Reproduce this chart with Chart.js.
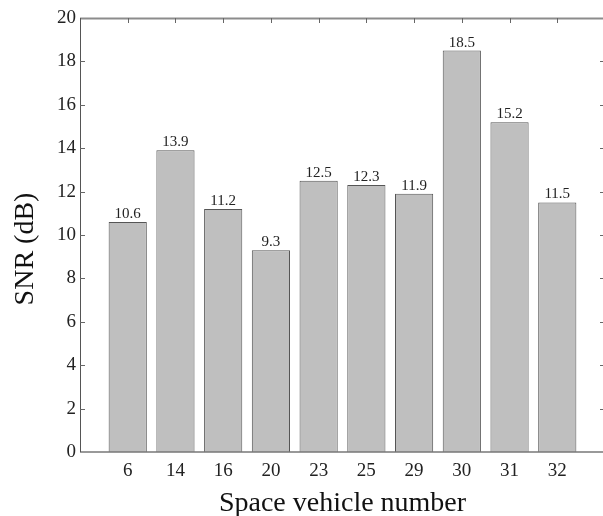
<!DOCTYPE html>
<html>
<head>
<meta charset="utf-8">
<script src="https://cdn.jsdelivr.net/npm/chart.js@4/dist/chart.umd.min.js"></script>
<style>
  html, body { margin: 0; padding: 0; background: #fff; overflow: hidden; }
  #wrap { width: 612px; height: 516px; }
</style>
</head>
<body>
<div id="wrap"><canvas id="c" width="612" height="516"></canvas></div>
<script>
// Space vehicle numbers and their measured SNR (dB)
const vehicles = ['6', '14', '16', '20', '23', '25', '29', '30', '31', '32'];
const snrValues = [10.6, 13.9, 11.2, 9.3, 12.5, 12.3, 11.9, 18.5, 15.2, 11.5];
const yTicks = [0, 2, 4, 6, 8, 10, 12, 14, 16, 18, 20];

const serif = '"Liberation Serif", "Times New Roman", serif';

// Box frame with inward tick marks, plus axis titles and value labels
const framePlugin = {
  id: 'frame',
  afterDatasetsDraw(chart) {
    const { ctx, chartArea: a, scales } = chart;
    const xs = scales.x, ys = scales.y;
    ctx.save();
    // top edge
    ctx.strokeStyle = '#8c8c8c';
    ctx.lineWidth = 2;
    ctx.beginPath(); ctx.moveTo(a.left, a.top + 0.5); ctx.lineTo(a.right, a.top + 0.5); ctx.stroke();
    // bottom edge
    ctx.strokeStyle = '#777';
    ctx.lineWidth = 1.5;
    ctx.beginPath(); ctx.moveTo(a.left, a.bottom); ctx.lineTo(a.right, a.bottom); ctx.stroke();
    // right edge
    ctx.beginPath(); ctx.moveTo(a.right, a.top); ctx.lineTo(a.right, a.bottom); ctx.stroke();
    // left edge
    ctx.strokeStyle = '#555';
    ctx.lineWidth = 1;
    ctx.beginPath(); ctx.moveTo(a.left + 0.5, a.top); ctx.lineTo(a.left + 0.5, a.bottom); ctx.stroke();

    // y ticks (left and right, inward)
    ctx.strokeStyle = '#666';
    ctx.lineWidth = 1;
    yTicks.forEach(v => {
      if (v === 0 || v === 20) return;
      const y = Math.round(ys.getPixelForValue(v)) + 0.5;
      ctx.beginPath(); ctx.moveTo(a.left, y); ctx.lineTo(a.left + 5, y); ctx.stroke();
      ctx.beginPath(); ctx.moveTo(a.right, y); ctx.lineTo(a.right - 5, y); ctx.stroke();
    });
    // x ticks along the top, inward
    vehicles.forEach((_, i) => {
      const x = Math.round(xs.getPixelForValue(i + 1)) + 0.5;
      ctx.beginPath(); ctx.moveTo(x, a.top); ctx.lineTo(x, a.top + 5); ctx.stroke();
    });

    // value labels above each bar
    const meta = chart.getDatasetMeta(0);
    ctx.fillStyle = '#222';
    ctx.font = '15px ' + serif;
    ctx.textAlign = 'center';
    ctx.textBaseline = 'alphabetic';
    meta.data.forEach((bar, i) => {
      ctx.fillText(snrValues[i].toFixed(1), bar.x, bar.y - 4);
    });

    // axis titles
    ctx.fillStyle = '#111';
    ctx.font = '28px ' + serif;
    ctx.textAlign = 'center';
    ctx.textBaseline = 'alphabetic';
    ctx.fillText('Space vehicle number', (a.left + a.right) / 2, 511);
    ctx.save();
    ctx.translate(33, 249);
    ctx.rotate(-Math.PI / 2);
    ctx.fillText('SNR (dB)', 0, 0);
    ctx.restore();
    ctx.restore();
  }
};

new Chart(document.getElementById('c'), {
  type: 'bar',
  data: {
    datasets: [{
      data: snrValues.map((v, i) => ({ x: i + 1, y: v })),
      backgroundColor: '#bfbfbf',
      borderColor: '#555',
      borderWidth: 1,
      barPercentage: 0.8,
      categoryPercentage: 1.0
    }]
  },
  options: {
    responsive: false,
    devicePixelRatio: 1,
    animation: false,
    layout: { padding: { top: 18, right: 7, left: 0, bottom: 0 } },
    plugins: { legend: { display: false }, tooltip: { enabled: false } },
    scales: {
      x: {
        type: 'linear',
        offset: false,
        min: 0,
        max: 11,
        afterFit(scale) { scale.height = 64; },
        afterBuildTicks(scale) {
          scale.ticks = vehicles.map((_, i) => ({ value: i + 1 }));
        },
        ticks: {
          autoSkip: false,
          maxRotation: 0,
          padding: 8,
          color: '#222',
          font: { family: serif, size: 19 },
          callback: (v) => vehicles[v - 1] ?? ''
        },
        grid: { display: false, drawTicks: false },
        border: { display: false }
      },
      y: {
        min: 0,
        max: 20,
        afterFit(scale) { scale.width = 80; },
        afterBuildTicks(scale) {
          scale.ticks = yTicks.map(v => ({ value: v }));
        },
        ticks: {
          padding: 4,
          color: '#222',
          font: { family: serif, size: 19 }
        },
        grid: { display: false, drawTicks: false },
        border: { display: false }
      }
    }
  },
  plugins: [framePlugin]
});
</script>
</body>
</html>
